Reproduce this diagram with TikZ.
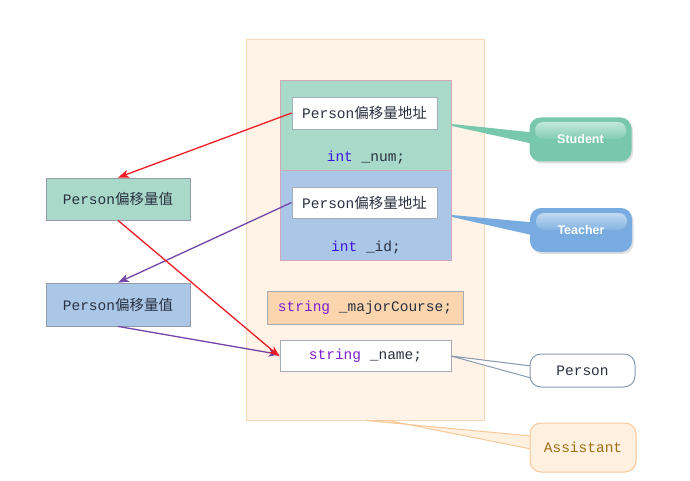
\documentclass[tikz,border=0pt]{standalone}
\usepackage{fontspec}
\setmainfont{Liberation Serif}
\setmonofont{Liberation Mono}
\newfontfamily\cjk{Noto Sans CJK SC}
\newfontfamily\calloutfont{Liberation Sans}
\usetikzlibrary{arrows.meta,shadows}
\definecolor{outerfill}{HTML}{FFF3E7}
\definecolor{outerdraw}{HTML}{F8D8B6}
\definecolor{gfill}{HTML}{A9D9C9}
\definecolor{bfill}{HTML}{ABC7E8}
\definecolor{pinkline}{HTML}{D4A6BA}
\definecolor{grayline}{HTML}{A4ACB6}
\definecolor{peach}{HTML}{FBD5AE}
\definecolor{redline}{HTML}{EE1C24}
\definecolor{purpline}{HTML}{7245A8}
\definecolor{kwint}{HTML}{3C14E6}
\definecolor{kwstr}{HTML}{7B1FD0}
\definecolor{stucol}{HTML}{78C8AE}
\definecolor{teacol}{HTML}{78ABDF}
\definecolor{percol}{HTML}{8A9AAE}
\definecolor{assfill}{HTML}{FFF0E0}
\definecolor{assdraw}{HTML}{F8C898}
\definecolor{asstext}{HTML}{A07010}
\definecolor{txt}{HTML}{2A3040}
\newcommand\codefont{\fontsize{14.5}{17}\selectfont\ttfamily\color{txt}}
\newcommand\callfont{\calloutfont\bfseries\fontsize{12.5}{14}\selectfont}
\tikzset{
  codebox/.style={draw=grayline, line width=0.8pt, font=\codefont, inner sep=0pt},
  memblock/.style={draw=pinkline, line width=0.8pt, inner sep=0pt},
  redarr/.style={draw=redline, line width=1.3pt, -{Stealth[length=11pt,width=8pt,inset=3pt]}},
  purparr/.style={draw=purpline, line width=1.3pt, -{Stealth[length=11pt,width=8pt,inset=3pt]}},
  glosscall/.style={rounded corners=11pt, inner sep=0pt, minimum width=102pt, minimum height=44pt,
     font=\callfont, text=white,
     drop shadow={opacity=0.25, shadow xshift=1.5pt, shadow yshift=-2pt}},
  plaincall/.style={rounded corners=11pt, inner sep=0pt, font=\codefont, line width=1pt}
}
\begin{document}
\begin{tikzpicture}[x=1pt,y=-1pt]
\useasboundingbox (0,0) rectangle (690,481);
\fill[white] (0,0) rectangle (690,481);
% outer object
\node[draw=outerdraw, fill=outerfill, line width=0.8pt, minimum width=238pt, minimum height=381pt, inner sep=0pt] (outer) at (365,229.5) {};
% student / teacher blocks
\node[memblock, fill=gfill, minimum width=171pt, minimum height=90pt] (stu) at (365.5,125) {};
\node[memblock, fill=bfill, minimum width=171pt, minimum height=90pt] (tea) at (365.5,215) {};
\node[codebox, fill=white, minimum width=145pt, minimum height=32pt] (w1) at (364.5,113) {Person{\cjk 偏移量地址}};
\node[font=\codefont, inner sep=0pt] (num) at (366,158) {{\color{kwint}int} \_num;};
\node[codebox, fill=white, minimum width=145pt, minimum height=31pt] (w2) at (364.5,202.5) {Person{\cjk 偏移量地址}};
\node[font=\codefont, inner sep=0pt] (id) at (366,248) {{\color{kwint}int} \_id;};
\node[codebox, fill=peach, minimum width=196pt, minimum height=33pt] (major) at (365,307.5) {{\color{kwstr}string} \_majorCourse;};
\node[codebox, fill=white, minimum width=171pt, minimum height=31pt] (name) at (365.5,355.5) {{\color{kwstr}string} \_name;};
% left value boxes
\node[codebox, draw=grayline!90!black, fill=gfill, minimum width=144pt, minimum height=42pt] (lg) at (118,199) {Person{\cjk 偏移量值}};
\node[codebox, draw=grayline!90!black, fill=bfill, minimum width=144pt, minimum height=43pt] (lb) at (118,304.5) {Person{\cjk 偏移量值}};
% arrows
\draw[redarr] (w1.west) -- (lg.north);
\draw[purparr] (w2.west) -- (lb.north);
\draw[purparr] (lb.south) -- ([yshift=1pt]name.west);
\draw[redarr] (lg.south) -- ([yshift=-1pt]name.west);
% callouts
\node[glosscall, fill=stucol] (stucall) at (580.5,139.5) {};
\node[glosscall, fill=teacol] (teacall) at (581,230) {};
\fill[stucol] (452,124) -- (545,133.7) -- (545,146.5) -- (452,126) -- cycle;
\fill[teacol] (452,215) -- (545,223.5) -- (545,238) -- (452,217) -- cycle;
\shade[rounded corners=8pt, top color=white!55!stucol, bottom color=stucol!92!white] (535,122) rectangle (626,139);
\shade[rounded corners=8pt, top color=white!55!teacol, bottom color=teacol!92!white] (536,213) rectangle (627,230);
\node[font=\callfont, text=white] at (stucall) {Student};
\node[font=\callfont, text=white] at (teacall) {Teacher};
% person callout
\filldraw[fill=white, draw=percol, line width=1pt] (451,356) -- (531,366) -- (531,378) -- cycle;
\node[plaincall, draw=percol, fill=white, minimum width=105pt, minimum height=33pt] (percall) at (582.5,370.5) {Person};
% assistant callout
\filldraw[fill=assfill, draw=assdraw, line width=1pt] (366,420.5) -- (531,436) -- (531,449) -- (388,420.5) -- cycle;
\node[plaincall, draw=assdraw, fill=assfill, minimum width=106pt, minimum height=49pt, text=asstext] (asscall) at (583,447.5) {Assistant};
\end{tikzpicture}
\end{document}
